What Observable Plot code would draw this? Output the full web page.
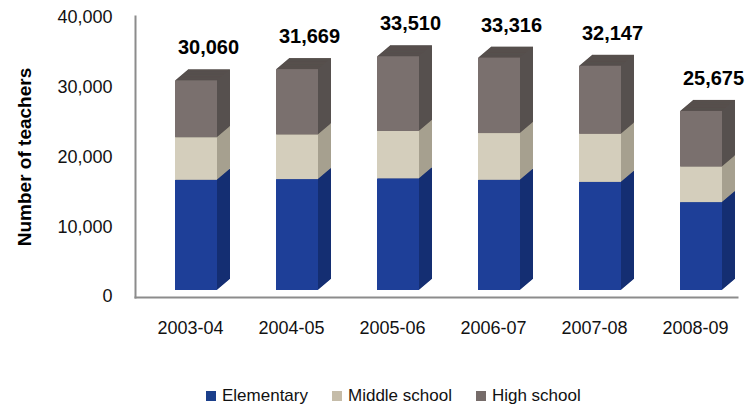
<!DOCTYPE html>
<html>
<head>
<meta charset="utf-8">
<script src="https://cdn.jsdelivr.net/npm/d3@7"></script>
<script src="https://cdn.jsdelivr.net/npm/@observablehq/plot@0.6"></script>
<style>
  body { margin: 0; background: #fff; font-family: "Liberation Sans", Arial, sans-serif; }
  #wrap { position: relative; width: 746px; height: 411px; }
  #legend { position: absolute; left: 206px; top: 386px; display: flex; align-items: center; font-size: 17px; color: #111; }
  .item { display: flex; align-items: center; margin-right: 24px; }
  .sw { width: 10px; height: 10px; margin-right: 6px; }
</style>
</head>
<body>
<div id="wrap"><div id="chart"></div><div id="legend"></div></div>
<script>
const years = ["2003-04", "2004-05", "2005-06", "2006-07", "2007-08", "2008-09"];
const elementary = [15800, 15900, 16000, 15800, 15500, 12600];
const middle = [6100, 6400, 6800, 6700, 6900, 5100];
const high = [8160, 9369, 10710, 10816, 9747, 7975];
const totals = [30060, 31669, 33510, 33316, 32147, 25675];
const levels = ["Elementary", "Middle school", "High school"];
const frontColors = ["#1e3f98", "#d4cebc", "#7a706e"];
const sideColors = ["#142e72", "#a6a08f", "#57504e"];
const legendColors = ["#1b3f8b", "#c5bca9", "#766c6a"];
const yTicks = [0, 10000, 20000, 30000, 40000];

const series = [elementary, middle, high];
const rows = [];
years.forEach((yr, i) => {
  series.forEach((s, j) => rows.push({year: yr, level: levels[j], value: s[i], front: frontColors[j], side: sideColors[j]}));
});
const labels = years.map((yr, i) => ({year: yr, total: totals[i]}));

const depthX = 13, depthY = 11, lift = 6, steps = 26;
const sweep = [];
for (let k = steps; k >= 1; k--) {
  const t = k / steps;
  sweep.push(Plot.barY(rows, {x: "year", y: "value", fill: "side", dx: depthX * t, dy: -lift - depthY * t}));
}

const chart = Plot.plot({
  width: 746,
  height: 350,
  marginLeft: 135,
  marginRight: 9,
  marginTop: 16,
  marginBottom: 53,
  style: {fontFamily: "'Liberation Sans', Arial, sans-serif", background: "#fff", color: "#111"},
  x: {type: "band", domain: years, range: [174, 722], paddingInner: 0.585, paddingOuter: 0, label: null},
  y: {domain: [0, 40000], range: [296, 17], label: null},
  marks: [
    ...sweep,
    Plot.barY(rows, {x: "year", y: "value", fill: "front", dy: -lift}),
    Plot.frame({anchor: "left", stroke: "#8c8c8c", strokeWidth: 2}),
    Plot.frame({anchor: "bottom", stroke: "#8c8c8c", strokeWidth: 2}),
    Plot.axisY({ticks: yTicks, tickFormat: d3.format(","), tickSize: 0, tickPadding: 23, fontSize: 18, label: null}),
    Plot.axisX({tickSize: 0, tickPadding: 24, fontSize: 18, label: null, dx: -6}),
    Plot.text(labels, {x: "year", y: "total", text: d => d3.format(",")(d.total), dx: 12, dy: -39, fontSize: 20, fontWeight: "bold", fill: "#000"}),
    Plot.text(["Number of teachers"], {frameAnchor: "left", textAnchor: "middle", lineAnchor: "middle", rotate: -90, dx: -111, fontSize: 19, fontWeight: "bold", fill: "#000"})
  ]
});
document.getElementById("chart").append(chart);

const legend = document.getElementById("legend");
levels.forEach((l, i) => {
  const it = document.createElement("div");
  it.className = "item";
  const sw = document.createElement("div");
  sw.className = "sw";
  sw.style.background = legendColors[i];
  const tx = document.createElement("span");
  tx.textContent = l;
  it.append(sw, tx);
  legend.append(it);
});
</script>
</body>
</html>
